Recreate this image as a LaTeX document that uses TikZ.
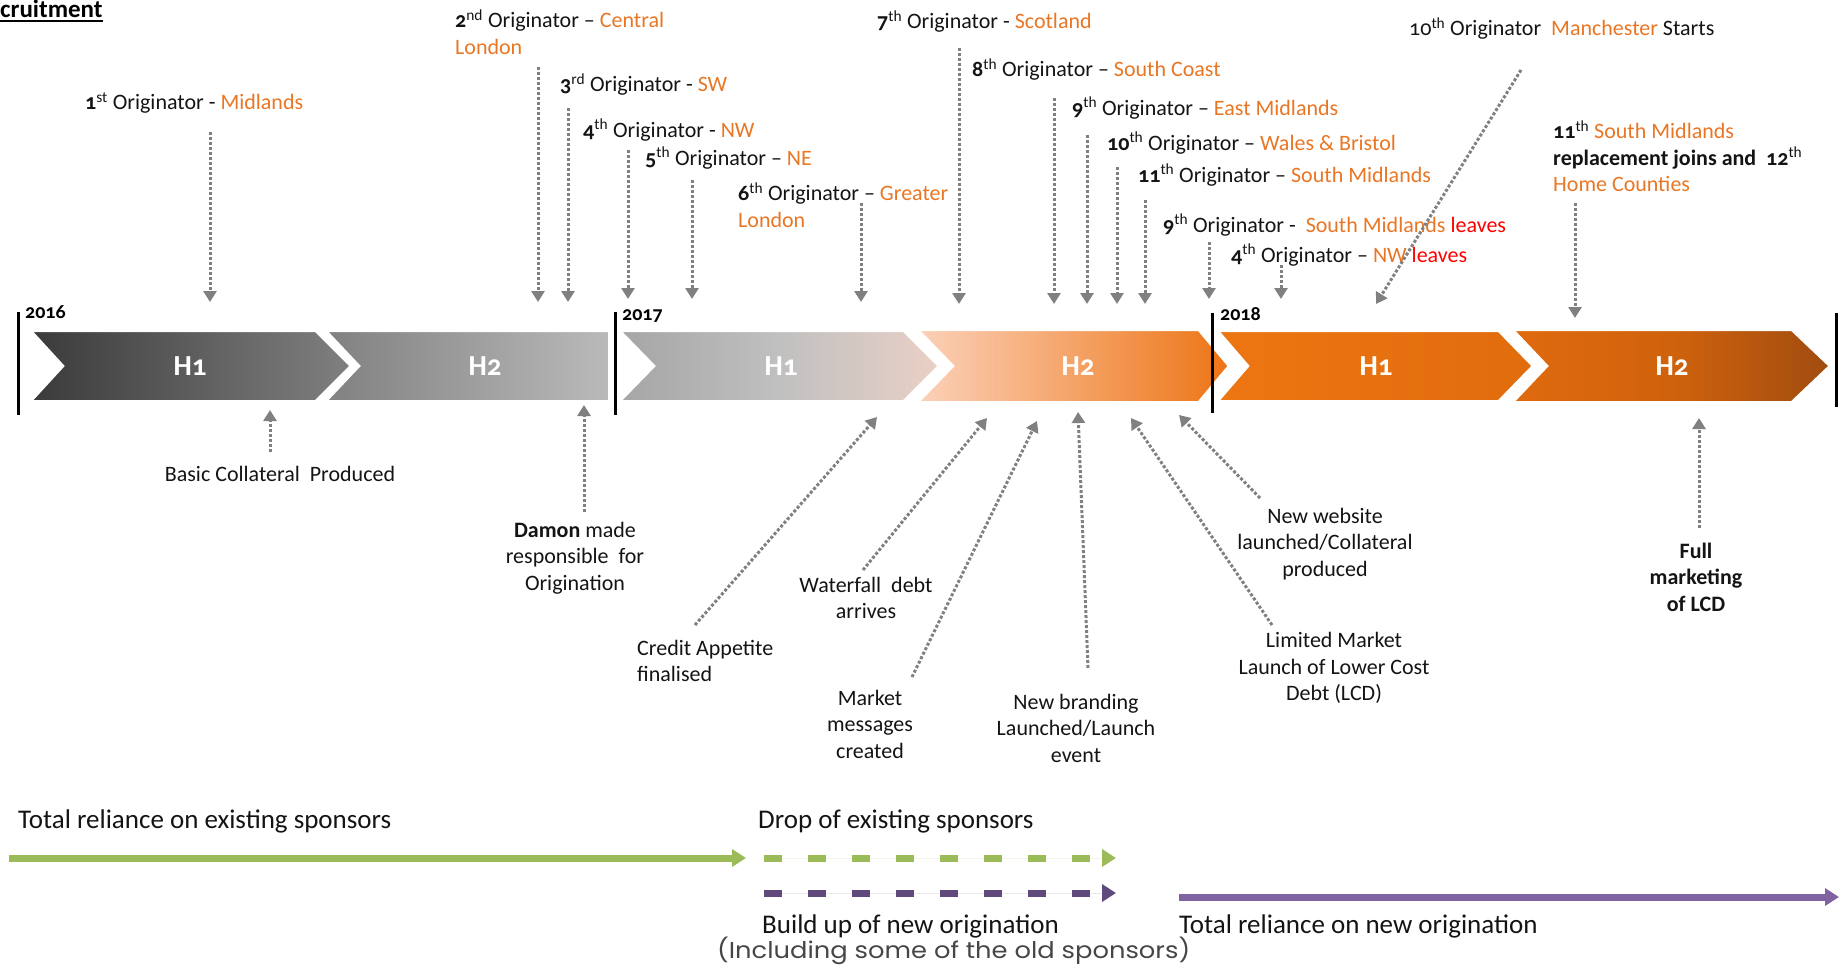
\documentclass[tikz,border=0pt]{standalone}
\usepackage{fontspec}
\setmainfont{Carlito}[Numbers=OldStyle]
\newfontfamily\popfont{Poppins}[FakeStretch=1.12]
\usetikzlibrary{arrows.meta}
\definecolor{orgT}{RGB}{233,118,36}
\definecolor{redT}{RGB}{255,0,0}
\definecolor{arrG}{RGB}{128,128,128}
\definecolor{grnA}{RGB}{155,187,89}
\definecolor{purD}{RGB}{96,74,123}
\definecolor{purL}{RGB}{128,100,162}
\definecolor{txtK}{RGB}{20,20,20}
\newcommand\og[1]{\textcolor{orgT}{#1}}
\newcommand\rd[1]{\textcolor{redT}{#1}}
\newcommand\nth[2]{\textbf{#1}\textsuperscript{#2}}
\begin{document}
\begin{tikzpicture}[x=1pt,y=-1pt,
  lbl/.style={font=\fontsize{22}{26.5}\selectfont, inner sep=0pt, text=txtK},
  big/.style={font=\fontsize{27}{32}\selectfont, inner sep=0pt, text=txtK, anchor=base west},
  hl/.style={font=\fontsize{29}{34}\selectfont\bfseries, text=white, inner sep=0pt},
  yr/.style={font=\fontsize{20}{23}\selectfont\bfseries, inner sep=0pt, anchor=base west, text=black},
  ev/.style={draw=arrG, line width=3pt, dash pattern=on 3pt off 2pt, -{Triangle[width=13pt,length=11pt]}},
  yearbar/.style={draw=black, line width=3pt},
  chev/.style={draw=white, line width=4pt, line join=miter},
  fat/.style={line width=7pt, -{Triangle[width=17pt,length=14pt]}},
]
\useasboundingbox (0,0) rectangle (1842,966);

% title
\node[font=\fontsize{25}{30}\selectfont\bfseries, inner sep=0pt, anchor=base west] (title) at (0,18) {cruitment};
\draw[line width=1.5pt] (title.south west) ++(0,2.5) coordinate (ul1) -- (title.south east |- ul1);

% chevrons
\shadedraw[chev, left color={rgb,255:red,58;green,58;blue,58}, right color={rgb,255:red,128;green,128;blue,128}]
  (29,330) -- (316,330) -- (352,366) -- (316,402) -- (29,402) -- (62,366) -- cycle;
\shadedraw[chev, left color={rgb,255:red,128;green,128;blue,128}, right color={rgb,255:red,186;green,186;blue,186}]
  (324,330) -- (610,330) -- (610,402) -- (324,402) -- (358,366) -- cycle;
\shadedraw[chev, left color={rgb,255:red,165;green,165;blue,165}, right color={rgb,255:red,234;green,208;blue,198}, middle color={rgb,255:red,192;green,192;blue,192}]
  (618,330) -- (904,330) -- (940,366) -- (904,402) -- (618,402) -- (653,366) -- cycle;
\shadedraw[chev, left color={rgb,255:red,251;green,210;blue,186}, right color={rgb,255:red,237;green,116;blue,21}]
  (916,329) -- (1199,329) -- (1230,366) -- (1199,403) -- (916,403) -- (952,366) -- cycle;
\shadedraw[chev, left color={rgb,255:red,237;green,118;blue,17}, right color={rgb,255:red,225;green,108;blue,13}]
  (1216,330) -- (1499,330) -- (1534,366) -- (1499,402) -- (1216,402) -- (1247,366) -- cycle;
\shadedraw[chev, left color={rgb,255:red,224;green,106;blue,14}, right color={rgb,255:red,160;green,76;blue,16}, middle color={rgb,255:red,208;green,98;blue,13}]
  (1511,329) -- (1792,329) -- (1831,366) -- (1792,403) -- (1511,403) -- (1546,366) -- cycle;

\node[hl] (c1) at (190,366) {H1};
\node[hl] (c2) at (485,366) {H2};
\node[hl] (c3) at (781,366) {H1};
\node[hl] (c4) at (1078,366) {H2};
\node[hl] (c5) at (1376,366) {H1};
\node[hl] (c6) at (1672,366) {H2};

% year bars
\draw[yearbar] (18,312) -- (18,415);
\draw[yearbar] (615,312) -- (615,415);
\draw[yearbar] (1212,313) -- (1212,413);
\draw[yearbar] (1836,313) -- (1836,407);
\node[yr] (y16) at (25,318) {2016};
\node[yr] (y17) at (622,320) {2017};
\node[yr] (y18) at (1220,320) {2018};

% top labels
\node[lbl, anchor=base west] (o1) at (85,110) {\nth{1}{st} Originator - \og{Midlands}};
\node[lbl, anchor=west, align=left] (o2) at (455,32) {\nth{2}{nd} Originator -- \og{Central}\\\og{London}};
\node[lbl, anchor=base west] (o3) at (560,92) {\nth{3}{rd} Originator - \og{SW}};
\node[lbl, anchor=base west] (o4) at (583,137) {\nth{4}{th} Originator - \og{NW}};
\node[lbl, anchor=base west] (o5) at (645,165) {\nth{5}{th} Originator -- \og{NE}};
\node[lbl, anchor=west, align=left] (o6) at (738,205) {\nth{6}{th} Originator -- \og{Greater}\\\og{London}};
\node[lbl, anchor=base west] (o7) at (877,29) {\nth{7}{th} Originator - \og{Scotland}};
\node[lbl, anchor=base west] (o8) at (972,77) {\nth{8}{th} Originator -- \og{South Coast}};
\node[lbl, anchor=base west] (o9) at (1072,115) {\nth{9}{th} Originator -- \og{East Midlands}};
\node[lbl, anchor=base west] (o10) at (1107,150) {\nth{10}{th} Originator -- \og{Wales \& Bristol}};
\node[lbl, anchor=base west] (o11) at (1138,182) {\nth{11}{th} Originator -- \og{South Midlands}};
\node[lbl, anchor=base west] (o9b) at (1163,232) {\nth{9}{th} Originator -\ \ \og{South Midlands} \rd{leaves}};
\node[lbl, anchor=base west] (o4b) at (1231,262) {\nth{4}{th} Originator -- \og{NW} \rd{leaves}};
\node[lbl, anchor=base west] (o10b) at (1409,36) {10\textsuperscript{th} Originator\ \ \og{Manchester} Starts};
\node[lbl, anchor=west, align=left] (o12) at (1553,156) {\nth{11}{th} \og{South Midlands}\\\textbf{replacement joins and\ \ 12}\textsuperscript{th}\\\og{Home Counties}};

% top arrows
\coordinate (t1) at (210,132);  \coordinate (h1) at (210,302);
\coordinate (t2) at (538,67);   \coordinate (h2) at (538,302);
\coordinate (t3) at (568,108);  \coordinate (h3) at (568,302);
\coordinate (t4) at (628,150);  \coordinate (h4) at (628,299);
\coordinate (t5) at (692,180);  \coordinate (h5) at (692,299);
\coordinate (t6) at (861,203);  \coordinate (h6) at (861,302);
\coordinate (t7) at (959,48);   \coordinate (h7) at (959,304);
\coordinate (t8) at (1054,98);  \coordinate (h8) at (1054,304);
\coordinate (t9) at (1087,135); \coordinate (h9) at (1087,304);
\coordinate (t10) at (1117,167); \coordinate (h10) at (1117,304);
\coordinate (t11) at (1145,200); \coordinate (h11) at (1145,304);
\coordinate (t9b) at (1209,242); \coordinate (h9b) at (1209,299);
\coordinate (t4b) at (1281,265); \coordinate (h4b) at (1281,299);
\coordinate (tm) at (1521,70);  \coordinate (hm) at (1376,304);
\coordinate (t12) at (1575,203); \coordinate (h12) at (1575,318);
\foreach \n in {1,2,3,4,5,6,7,8,9,10,11,9b,4b,m,12} \draw[ev] (t\n) -- (h\n);

% bottom labels
\node[lbl, anchor=base] (b1) at (280,481) {Basic Collateral\ \ Produced};
\node[lbl, align=center] (b2) at (575,558) {\textbf{Damon} made\\responsible\ \ for\\Origination};
\node[lbl, anchor=west, align=left] (b3) at (637,661) {Credit Appetite\\finalised};
\node[lbl, align=center] (b4) at (866,598) {Waterfall\ \ debt\\arrives};
\node[lbl, align=center] (b5) at (870,724) {Market\\messages\\created};
\node[lbl, align=center] (b6) at (1076,728) {New branding\\Launched/Launch\\event};
\node[lbl, align=center] (b7) at (1334,668) {Limited Market\\Launch of Lower Cost\\Debt (LCD)};
\node[lbl, align=center] (b8) at (1325,544) {New website\\launched/Collateral\\produced};
\node[lbl, align=center, font=\fontsize{22}{26.5}\selectfont\bfseries] (b9) at (1696,577) {Full\\marketing\\of LCD};

% bottom arrows
\coordinate (u1) at (270,452);  \coordinate (v1) at (270,410);
\coordinate (u2) at (584,512);  \coordinate (v2) at (584,405);
\coordinate (u3) at (695,625);  \coordinate (v3) at (877,417);
\coordinate (u4) at (863,570);  \coordinate (v4) at (987,418);
\coordinate (u5) at (912,677);  \coordinate (v5) at (1037,421);
\coordinate (u6) at (1088,668); \coordinate (v6) at (1078,412);
\coordinate (u7) at (1272,625); \coordinate (v7) at (1131,418);
\coordinate (u8) at (1260,498); \coordinate (v8) at (1179,415);
\coordinate (u9) at (1699,528); \coordinate (v9) at (1699,418);
\foreach \n in {1,...,9} \draw[ev] (u\n) -- (v\n);

% reliance section
\node[big] (r1) at (18,828) {Total reliance on existing sponsors};
\node[big] (r2) at (758,828) {Drop of existing sponsors};
\node[big] (r3) at (762,933) {Build up of new origination};
\node[big] (r4) at (1179,933) {Total reliance on new origination};
\node[inner sep=0pt, anchor=base west, font=\popfont\fontsize{23}{27}\selectfont, text={rgb,255:red,70;green,70;blue,70}] (r5) at (717,958) {(Including some of the old sponsors)};

\coordinate (g1) at (9,858);   \coordinate (g2) at (746,858);
\coordinate (g3) at (764,858); \coordinate (g4) at (1116,858);
\coordinate (p1) at (764,893); \coordinate (p2) at (1116,893);
\coordinate (p3) at (1179,897); \coordinate (p4) at (1839,897);
\draw[fat, draw=grnA, fill=grnA] (g1) -- (g2);
\draw[fat, draw=grnA, fill=grnA, dash pattern=on 18pt off 26pt] (g3) -- (g4);
\draw[fat, draw=purD, fill=purD, dash pattern=on 18pt off 26pt] (p1) -- (p2);
\draw[fat, draw=purL, fill=purL] (p3) -- (p4);
\end{tikzpicture}
\end{document}
